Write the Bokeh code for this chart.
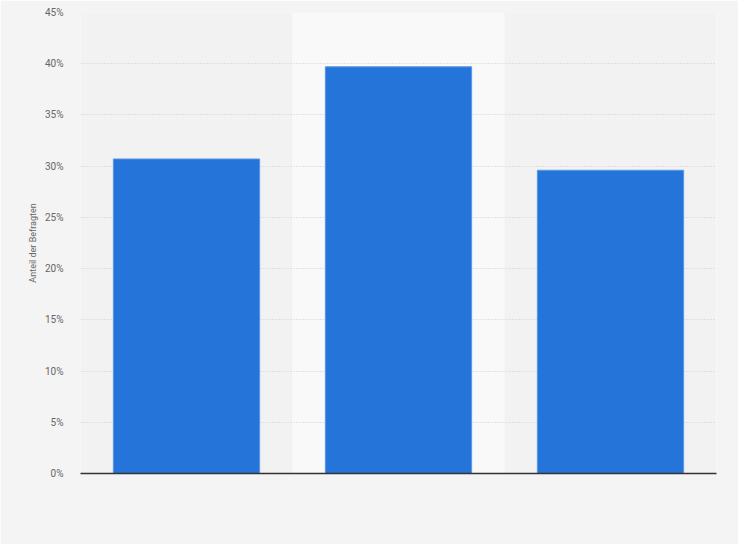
from bokeh.plotting import figure
from bokeh.embed import file_html
from bokeh.resources import INLINE
from bokeh.models import FixedTicker, PrintfTickFormatter, Range1d, FactorRange

categories = ["A", "B", "C"]
values = [30.7, 39.7, 29.6]
y_ticks = [0, 5, 10, 15, 20, 25, 30, 35, 40, 45]
y_label = "Anteil der Befragten"

p = figure(x_range=FactorRange(*categories, range_padding=0), y_range=Range1d(0, 45),
           width=738, height=544, output_backend="svg", toolbar_location=None,
           min_border_left=80, min_border_right=22, min_border_top=12, min_border_bottom=71)
p.frame_width = 636
p.frame_height = 461

bg = "#f4f4f4"
p.background_fill_color = "#f2f2f2"
p.border_fill_color = bg
p.outline_line_color = None

# highlighted middle column band
p.vbar(x=[categories[1]], top=[45], width=1.0, color="#f9f9f9", line_color=None, level="underlay")

p.vbar(x=categories, top=values, width=0.69, fill_color="#2474da", line_color="#5a96e6", line_width=1)

p.ygrid.grid_line_color = "#cccccc"
p.ygrid.grid_line_dash = "1 2"
p.xgrid.grid_line_color = None

p.yaxis.ticker = FixedTicker(ticks=y_ticks)
p.yaxis.formatter = PrintfTickFormatter(format="%d%%")
p.yaxis.axis_line_color = None
p.yaxis.major_tick_line_color = None
p.yaxis.minor_tick_line_color = None
p.yaxis.major_label_text_color = "#666666"
p.yaxis.major_label_text_font = "Roboto"
p.yaxis.major_label_text_font_size = "10px"
p.yaxis.major_label_standoff = 11
p.yaxis.axis_label = y_label
p.yaxis.axis_label_text_font = "Roboto"
p.yaxis.axis_label_text_font_size = "9px"
p.yaxis.axis_label_text_font_style = "normal"
p.yaxis.axis_label_text_color = "#666666"
p.yaxis.axis_label_standoff = 4

p.xaxis.axis_line_color = "#333333"
p.xaxis.axis_line_width = 1.3
p.xaxis.major_tick_line_color = None
p.xaxis.minor_tick_line_color = None
p.xaxis.major_label_text_alpha = 0
p.xaxis.major_label_text_font_size = "10px"

open("out.html", "w").write(file_html(p, INLINE))
